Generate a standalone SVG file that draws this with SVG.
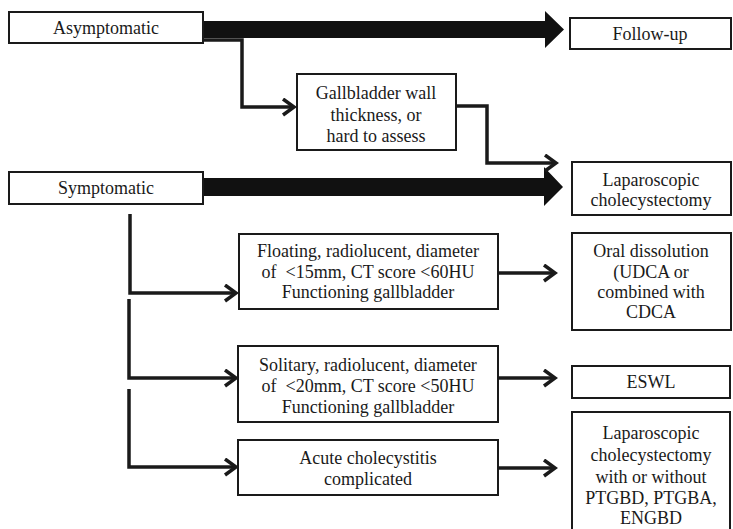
<svg xmlns="http://www.w3.org/2000/svg" width="733" height="529" viewBox="0 0 733 529">
<defs>
<style>
.box{fill:#fff;stroke:#1a1a1a;stroke-width:2}
text{font-family:'Liberation Serif','DejaVu Serif',serif;font-size:18px;fill:#1a1a1a;text-anchor:middle;dominant-baseline:central}
.ln{fill:none;stroke:#1a1a1a;stroke-width:3.5}
.big{fill:#111;stroke:none}
</style>
<marker id="ah" markerWidth="16" markerHeight="20" refX="13" refY="9" orient="auto" markerUnits="userSpaceOnUse">
<path d="M2,1 L13,9 L2,17" fill="none" stroke="#1a1a1a" stroke-width="3.5"/>
</marker>
</defs>
<rect width="733" height="529" fill="#fff"/>
<g id="connectors">
<polygon class="big" points="203,21 545,21 545,11 564,29.5 545,48 545,38 203,38"/>
<polygon class="big" points="203,178 544,178 544,167 563,187 544,206 544,196 203,196"/>
<path class="ln" d="M203,40 H242 V107 H294" marker-end="url(#ah)"/>
<path class="ln" d="M456,106 H487 V163 H556" marker-end="url(#ah)"/>
<path class="ln" d="M130,214 V293 H236" marker-end="url(#ah)"/>
<path class="ln" d="M129,299 V378 H236" marker-end="url(#ah)"/>
<path class="ln" d="M129,389 V467 H236" marker-end="url(#ah)"/>
<path class="ln" d="M498,273 H555" marker-end="url(#ah)"/>
<path class="ln" d="M498,378 H555" marker-end="url(#ah)"/>
<path class="ln" d="M498,468 H555" marker-end="url(#ah)"/>
</g>
<g id="asymptomatic"><rect class="box" x="9" y="12" width="194" height="31"/><text x="106" y="28">Asymptomatic</text></g>
<g id="followup"><rect class="box" x="570" y="18" width="161" height="31"/><text x="650" y="34">Follow-up</text></g>
<g id="gallbladder"><rect class="box" x="297" y="74" width="159" height="76"/><text x="376" y="93">Gallbladder wall</text><text x="376" y="115">thickness, or</text><text x="376" y="136">hard to assess</text></g>
<g id="symptomatic"><rect class="box" x="9" y="172" width="194" height="32"/><text x="106" y="188">Symptomatic</text></g>
<g id="lapchole1"><rect class="box" x="572" y="162" width="159" height="53"/><text x="651" y="180">Laparoscopic</text><text x="651" y="200">cholecystectomy</text></g>
<g id="floating"><rect class="box" x="239" y="234" width="259" height="75"/><text x="368" y="251">Floating, radiolucent, diameter</text><text x="368" y="272" xml:space="preserve">of  &lt;15mm, CT score &lt;60HU</text><text x="368" y="292">Functioning gallbladder</text></g>
<g id="oral"><rect class="box" x="572" y="233" width="159" height="97"/><text x="651" y="251">Oral dissolution</text><text x="651" y="272">(UDCA or</text><text x="651" y="292">combined with</text><text x="651" y="312">CDCA</text></g>
<g id="solitary"><rect class="box" x="238" y="346" width="260" height="76"/><text x="368" y="365">Solitary, radiolucent, diameter</text><text x="368" y="386" xml:space="preserve">of  &lt;20mm, CT score &lt;50HU</text><text x="368" y="407">Functioning gallbladder</text></g>
<g id="eswl"><rect class="box" x="572" y="366" width="158" height="32"/><text x="651" y="382">ESWL</text></g>
<g id="acute"><rect class="box" x="238" y="440" width="260" height="55"/><text x="368" y="458">Acute cholecystitis</text><text x="368" y="479">complicated</text></g>
<g id="lapchole2"><rect class="box" x="572" y="412" width="158" height="130"/><text x="651" y="433">Laparoscopic</text><text x="651" y="455">cholecystectomy</text><text x="651" y="477">with or without</text><text x="651" y="498">PTGBD, PTGBA,</text><text x="651" y="518">ENGBD</text></g>
</svg>
